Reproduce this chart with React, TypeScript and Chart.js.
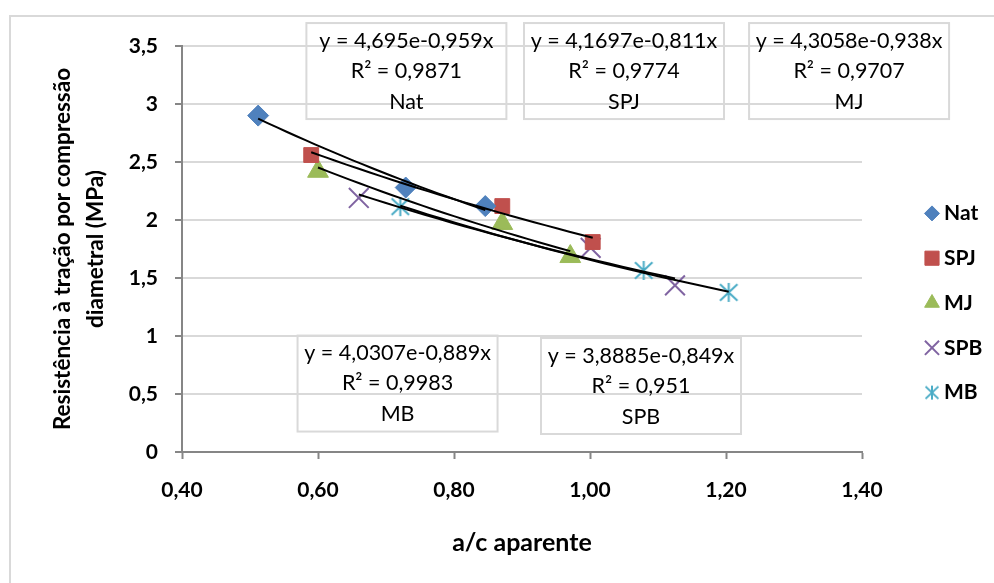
import React, { useEffect, useRef } from 'react';
import { Chart, registerables } from 'chart.js';
import { drawPoint } from 'chart.js/helpers';

Chart.register(...registerables);

const FONT = 'Lato';

// Series data (a/c aparente vs resistência)
const seriesNames = ['Nat', 'SPJ', 'MJ', 'SPB', 'MB'];
const natX = [0.512, 0.729, 0.846];
const natY = [2.9, 2.28, 2.12];
const spjX = [0.59, 0.871, 1.004];
const spjY = [2.56, 2.12, 1.81];
const mjX = [0.6, 0.871, 0.971];
const mjY = [2.42, 1.97, 1.685];
const spbX = [0.66, 1.001, 1.125];
const spbY = [2.19, 1.76, 1.436];
const mbX = [0.721, 1.079, 1.204];
const mbY = [2.115, 1.565, 1.376];

// Exponential trendlines y = a e^(b x)
const trendA = [4.695, 4.1697, 4.3058, 3.8885, 4.0307];
const trendB = [-0.959, -0.811, -0.938, -0.849, -0.889];
const eqLabels = ['y = 4,695e-0,959x', 'y = 4,1697e-0,811x', 'y = 4,3058e-0,938x', 'y = 3,8885e-0,849x', 'y = 4,0307e-0,889x'];
const r2Labels = ['R² = 0,9871', 'R² = 0,9774', 'R² = 0,9707', 'R² = 0,951', 'R² = 0,9983'];

// Label box anchors (data coordinates of box centres)
const boxCx = [0.73, 1.05, 1.381, 1.075, 0.717];
const boxCy = [3.284, 3.284, 3.284, 0.569, 0.59];

const xTicks = [0.4, 0.6, 0.8, 1.0, 1.2, 1.4];
const yTicks = [0, 0.5, 1, 1.5, 2, 2.5, 3, 3.5];

const colors = ['#4F81BD', '#C0504D', '#9BBB59', '#8064A2', '#4BACC6'];

function makeAsterisk(size: number, color: string, lw: number) {
  const c = document.createElement('canvas');
  c.width = size;
  c.height = size;
  const g = c.getContext('2d')!;
  g.strokeStyle = color;
  g.lineWidth = lw;
  const h = size / 2;
  const r = h - 1;
  const d = r * 0.92;
  g.beginPath();
  g.moveTo(h, h - r);
  g.lineTo(h, h + r);
  g.moveTo(h - d, h - d * 0.95);
  g.lineTo(h + d, h + d * 0.95);
  g.moveTo(h + d, h - d * 0.95);
  g.lineTo(h - d, h + d * 0.95);
  g.stroke();
  return c;
}

export default function App() {
  const ref = useRef<HTMLCanvasElement>(null);

  useEffect(() => {
    const xs = [natX, spjX, mjX, spbX, mbX];
    const ys = [natY, spjY, mjY, spbY, mbY];
    const starBig = makeAsterisk(21, colors[4], 2);
    const starSmall = makeAsterisk(16, colors[4], 2);
    const styles: any[] = ['rectRot', 'rect', 'triangle', 'crossRot', starBig];
    const radii = [10.5, 10.5, 12, 14, 10];
    const legendStyles: any[] = ['rectRot', 'rect', 'triangle', 'crossRot', starSmall];
    const legendRadii = [7.5, 10, 8.5, 10, 8];

    const trendSets = trendA.map((a, k) => {
      const lo = Math.min(...xs[k]);
      const hi = Math.max(...xs[k]);
      const n = 24;
      const pts = [];
      for (let i = 0; i <= n; i++) {
        const x = lo + ((hi - lo) * i) / n;
        pts.push({ x, y: a * Math.exp(trendB[k] * x) });
      }
      return {
        label: 'trend ' + seriesNames[k],
        data: pts,
        showLine: true,
        borderColor: '#000',
        borderWidth: 2,
        pointRadius: 0,
        fill: false,
        order: 0,
      };
    });

    const pointSets = seriesNames.map((name, k) => ({
      label: name,
      data: xs[k].map((x, i) => ({ x, y: ys[k][i] })),
      showLine: false,
      pointStyle: styles[k],
      pointRadius: radii[k],
      pointHoverRadius: radii[k],
      backgroundColor: colors[k],
      borderColor: colors[k],
      pointBorderWidth: k === 3 ? 2 : 1,
      order: 1,
    }));

    const framePlugin = {
      id: 'frame',
      beforeDraw(chart: any) {
        const ctx = chart.ctx;
        ctx.save();
        ctx.fillStyle = '#fff';
        ctx.fillRect(0, 0, chart.width, chart.height);
        ctx.strokeStyle = '#d9d9d9';
        ctx.lineWidth = 2;
        ctx.beginPath();
        ctx.moveTo(10, chart.height + 2);
        ctx.lineTo(10, 16);
        ctx.lineTo(chart.width + 2, 16);
        ctx.stroke();
        ctx.restore();
      },
    };

    const boxPlugin = {
      id: 'eqBoxes',
      afterDraw(chart: any) {
        const ctx = chart.ctx;
        const xs_ = chart.scales.x;
        const ys_ = chart.scales.y;
        ctx.save();
        for (let k = 0; k < 5; k++) {
          const cx = xs_.getPixelForValue(boxCx[k]);
          const cy = ys_.getPixelForValue(boxCy[k]);
          const w = 200;
          const h = 96;
          ctx.strokeStyle = '#d9d9d9';
          ctx.lineWidth = 2;
          ctx.strokeRect(cx - w / 2, cy - h / 2, w, h);
          ctx.fillStyle = '#000';
          ctx.font = `21.5px ${FONT}`;
          ctx.textAlign = 'center';
          ctx.textBaseline = 'middle';
          ctx.fillText(eqLabels[k], cx, cy - 30);
          ctx.fillText(r2Labels[k], cx, cy);
          ctx.fillText(seriesNames[k], cx, cy + 31);
        }
        // legend
        const lx = chart.chartArea.right + 70;
        const midY = (chart.chartArea.top + chart.chartArea.bottom) / 2 + 54;
        const step = 44.8;
        for (let k = 0; k < 5; k++) {
          const y = midY + (k - 2) * step;
          ctx.fillStyle = colors[k];
          ctx.strokeStyle = colors[k];
          ctx.lineWidth = k === 3 ? 2 : 1;
          drawPoint(ctx, { pointStyle: legendStyles[k], rotation: 0, radius: legendRadii[k], borderWidth: ctx.lineWidth }, lx, y);
          ctx.fillStyle = '#000';
          ctx.font = `bold 21px ${FONT}`;
          ctx.textAlign = 'left';
          ctx.textBaseline = 'middle';
          ctx.fillText(seriesNames[k], lx + 12, y);
        }
        ctx.restore();
      },
    };

    const chart = new Chart(ref.current!, {
      type: 'scatter',
      data: { datasets: [...trendSets, ...pointSets] as any },
      options: {
        animation: false,
        responsive: false,
        events: [],
        layout: { padding: { left: 0, right: 132, top: 46, bottom: 0 } },
        plugins: { legend: { display: false }, tooltip: { enabled: false } },
        scales: {
          x: {
            type: 'linear',
            min: xTicks[0],
            max: xTicks[xTicks.length - 1],
            afterBuildTicks: (s: any) => {
              s.ticks = xTicks.map((v) => ({ value: v }));
            },
            afterFit: (s: any) => {
              s.height = 131;
            },
            ticks: {
              callback: (v: any) => Number(v).toFixed(2).replace('.', ','),
              font: { family: FONT, size: 21, weight: 'bold' },
              color: '#000',
              padding: 19,
            },
            grid: { drawOnChartArea: false, drawTicks: true, tickLength: 7, tickColor: '#868686', tickWidth: 2 },
            border: { color: '#868686', width: 2 },
            title: {
              display: true,
              text: 'a/c aparente',
              font: { family: FONT, size: 25, weight: 'bold' },
              color: '#000',
              padding: { top: 0, bottom: 25 },
            },
          },
          y: {
            type: 'linear',
            min: yTicks[0],
            max: yTicks[yTicks.length - 1],
            afterBuildTicks: (s: any) => {
              s.ticks = yTicks.map((v) => ({ value: v }));
            },
            afterFit: (s: any) => {
              s.width = 182;
            },
            ticks: {
              callback: (v: any) => String(v).replace('.', ','),
              font: { family: FONT, size: 21, weight: 'bold' },
              color: '#000',
              padding: 17,
            },
            grid: { color: '#d9d9d9', lineWidth: 2, drawTicks: true, tickLength: 7, tickColor: '#868686', tickWidth: 2 },
            border: { color: '#868686', width: 2 },
            title: {
              display: true,
              text: ['Resistência à tração por compressão', 'diametral (MPa)'],
              font: { family: FONT, size: 22.5, weight: 'bold', lineHeight: 1.47 },
              color: '#000',
              padding: { top: 46.5, bottom: 0 },
            },
          },
        },
      },
      plugins: [framePlugin, boxPlugin],
    } as any);
    return () => chart.destroy();
  }, []);

  return (
    <div style={{ position: 'fixed', left: 0, top: 0, width: 994, height: 583, background: '#fff' }}>
      <canvas ref={ref} width={994} height={583} style={{ width: 994, height: 583, display: 'block' }} />
    </div>
  );
}
